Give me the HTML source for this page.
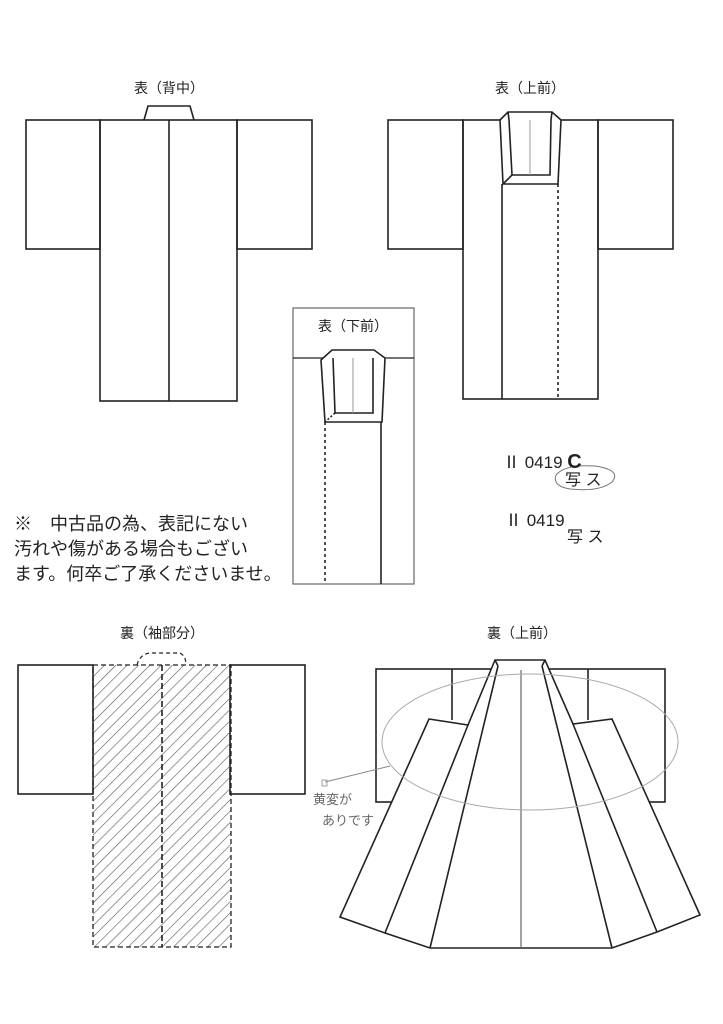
<!DOCTYPE html>
<html><head><meta charset="utf-8"><style>
html,body{margin:0;padding:0;background:#fff;}
svg{display:block;}
text{font-family:"Liberation Sans","Noto Sans CJK JP",sans-serif;fill:#222;}
</style></head><body>
<svg width="723" height="1024" viewBox="0 0 723 1024" xmlns="http://www.w3.org/2000/svg">
<defs>
<pattern id="h" width="8" height="8" patternUnits="userSpaceOnUse" patternTransform="rotate(45)">
<line x1="0" y1="0" x2="0" y2="8" stroke="#555" stroke-width="1.2"/>
</pattern>
</defs>
<g fill="none" stroke="#222" stroke-width="1.6">
<!-- top-left -->
<rect x="26" y="120" width="74" height="129"/>
<rect x="100" y="120" width="137" height="281"/>
<line x1="169" y1="120" x2="169" y2="401"/>
<rect x="237" y="120" width="75" height="129"/>
<polyline points="144,120 148,106 190,106 194,120"/>
<!-- top-right -->
<rect x="388" y="120" width="75" height="129"/>
<rect x="463" y="120" width="135" height="279"/>
<rect x="598" y="120" width="75" height="129"/>
<polygon points="500,120 508,112 552,112 561,120 558,184 503,184" fill="#fff"/>
<polyline points="509,120 512,175 550,175 551,120"/>
<line x1="508" y1="112" x2="509" y2="120"/><line x1="552" y1="112" x2="551" y2="120"/>
<line x1="512" y1="175" x2="503" y2="184"/>
<line x1="530" y1="120" x2="530" y2="175" stroke="#999" stroke-width="1"/>
<line x1="502" y1="184" x2="502" y2="399"/>
<line x1="558" y1="184" x2="558" y2="399" stroke-dasharray="3,3"/>
<!-- middle -->
<rect x="293" y="308" width="121" height="276" stroke="#666" stroke-width="1.2"/>
<line x1="293" y1="358" x2="414" y2="358" stroke-width="1.2"/>
<polygon points="321,360 332,350 374,350 385,358 382,422 325,422" fill="#fff"/>
<polyline points="333,358 335,413 373,413 373,358"/>
<line x1="335" y1="413" x2="325" y2="422" stroke-dasharray="2,2"/>
<line x1="353" y1="358" x2="353" y2="413" stroke="#999" stroke-width="1"/>
<line x1="381" y1="422" x2="381" y2="584"/>
<line x1="325" y1="422" x2="325" y2="584" stroke-dasharray="3,3"/>
<!-- bottom-left -->
<rect x="18" y="665" width="75" height="129"/>
<rect x="230" y="665" width="75" height="129"/>
<rect x="93" y="665" width="138" height="282" fill="url(#h)" stroke-dasharray="5,3" stroke-width="1.3"/>
<line x1="162" y1="665" x2="162" y2="947" stroke-dasharray="6,3"/>
<path d="M137,665 Q140,654 150,653 L180,653 Q186,656 186,665" stroke-dasharray="4,3" stroke-width="1.2"/>
<!-- bottom-right -->
<rect x="376" y="669" width="289" height="133"/>
<line x1="452" y1="669" x2="452" y2="720"/>
<line x1="588" y1="669" x2="588" y2="720"/>
<polygon points="429,719 468,725 495,660 545,660 573,724 612,719 700,915 657,932 612,948 430,948 385,933 340,917" fill="#fff"/>
<line x1="468" y1="725" x2="385" y2="933"/>
<line x1="573" y1="724" x2="657" y2="932"/>
<line x1="498" y1="666" x2="430" y2="948"/>
<line x1="542" y1="666" x2="612" y2="948"/>
<line x1="495" y1="660" x2="498" y2="666"/>
<line x1="545" y1="660" x2="542" y2="666"/>
<line x1="521" y1="670" x2="521" y2="948" stroke="#666" stroke-width="1.2"/>
<ellipse cx="530" cy="742" rx="148" ry="68" stroke="#aaa" stroke-width="1"/>
<line x1="325" y1="782" x2="390" y2="766" stroke="#888" stroke-width="1"/>
<rect x="322" y="780" width="5" height="6" stroke="#888" stroke-width="0.8"/>
<path d="M556,475 Q565,464 595,466 Q622,470 612,482 Q600,492 570,489 Q552,486 556,475" stroke="#777" stroke-width="1"/>
</g>
<text x="169" y="93" font-size="14" text-anchor="middle">表（背中）</text>
<text x="530" y="93" font-size="14" text-anchor="middle">表（上前）</text>
<text x="353" y="331" font-size="14" text-anchor="middle">表（下前）</text>
<text x="162" y="638" font-size="14" text-anchor="middle">裏（袖部分）</text>
<text x="522" y="638" font-size="14" text-anchor="middle">裏（上前）</text>
<text x="503" y="468" font-size="17">Ⅱ 0419 <tspan font-weight="bold" font-size="20">C</tspan></text>
<text x="565" y="485" font-size="16">写 ス</text>
<text x="505" y="526" font-size="17">Ⅱ 0419</text>
<text x="567" y="542" font-size="16">写 ス</text>
<text x="14" y="530" font-size="18">※　中古品の為、表記にない</text>
<text x="14" y="555" font-size="18">汚れや傷がある場合もござい</text>
<text x="14" y="580" font-size="18">ます。何卒ご了承くださいませ。</text>
<text x="313" y="804" font-size="13" style="fill:#666">黄変が</text>
<text x="322" y="825" font-size="13" style="fill:#666">ありです</text>
</svg>
</body></html>
